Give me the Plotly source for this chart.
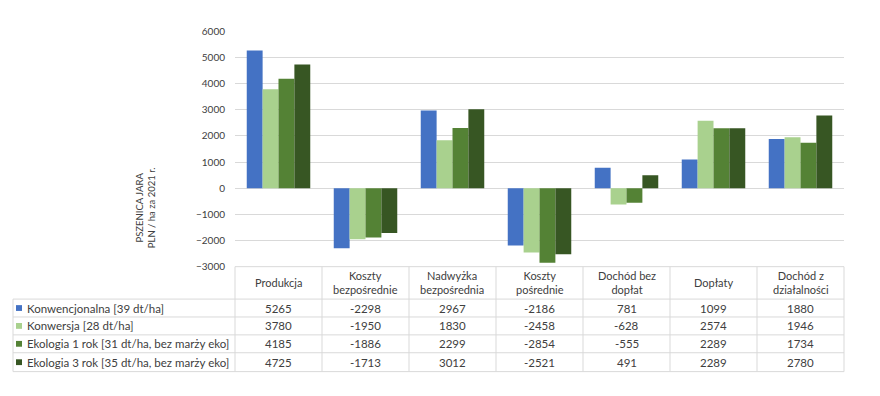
import plotly.graph_objects as go

categories = ["Produkcja", "Koszty bezpośrednie", "Nadwyżka bezpośrednia", "Koszty pośrednie",
              "Dochód bez dopłat", "Dopłaty", "Dochód z działalności"]
header_labels = ["Produkcja", "Koszty<br>bezpośrednie", "Nadwyżka<br>bezpośrednia", "Koszty<br>pośrednie",
                 "Dochód bez<br>dopłat", "Dopłaty", "Dochód z<br>działalności"]
series_names = ["Konwencjonalna [39 dt/ha]", "Konwersja [28 dt/ha]",
                "Ekologia 1 rok [31 dt/ha, bez marży eko]", "Ekologia 3 rok [35 dt/ha, bez marży eko]"]
konwencjonalna = [5265, -2298, 2967, -2186, 781, 1099, 1880]
konwersja = [3780, -1950, 1830, -2458, -628, 2574, 1946]
ekologia1 = [4185, -1886, 2299, -2854, -555, 2289, 1734]
ekologia3 = [4725, -1713, 3012, -2521, 491, 2289, 2780]
series_values = [konwencjonalna, konwersja, ekologia1, ekologia3]
colors = ["#4472C4", "#A9D18E", "#548235", "#375623"]
y_ticks = [6000, 5000, 4000, 3000, 2000, 1000, 0, -1000, -2000, -3000]
y_title = "PSZENICA JARA<br>PLN / ha za 2021 r."

W, H = 880, 396
FONT = "Lato"
TXT = "#404040"
GRID = "#D9D9D9"
TBL = "#D9D9D9"

# layout in pixels
px_left, px_right = 235, 844
py_top, py_bottom = 25, 268.5
leg_left = 13
row_lines = [268.5, 302, 320.5, 339, 357.5, 377]

def X(px):
    return px / W

def Y(py):
    return 1 - py / H

fig = go.Figure()
for name, vals, c in zip(series_names, series_values, colors):
    fig.add_trace(go.Bar(x=categories, y=vals, name=name, marker=dict(color=c, line=dict(width=0)),
                         hoverinfo="skip"))

fig.update_layout(
    width=W, height=H,
    margin=dict(l=0, r=0, t=0, b=0),
    paper_bgcolor="white", plot_bgcolor="white",
    showlegend=False,
    barmode="group", bargap=0.27, bargroupgap=0,
    font=dict(family=FONT, color=TXT, size=10),
    xaxis=dict(domain=[X(px_left), X(px_right)], showticklabels=False, ticks="",
               showgrid=False, zeroline=False, showline=False, range=[-0.5, 6.5]),
    yaxis=dict(domain=[Y(py_bottom), Y(py_top)], range=[-3000, 6000], tickvals=y_ticks,
               showgrid=True, gridcolor=GRID, gridwidth=1, zeroline=True, zerolinecolor=GRID,
               zerolinewidth=1, showline=False, ticks="", ticklabelstandoff=9,
               tickfont=dict(family=FONT, size=10, color=TXT)),
)

# y axis title
fig.add_annotation(x=X(145), y=Y(208), xref="paper", yref="paper", text=y_title, textangle=-90,
                   xanchor="center", yanchor="middle",
                   showarrow=False, font=dict(family=FONT, size=9.5, color=TXT), align="center")

shapes = []
colw = (px_right - px_left) / len(categories)
for i in range(len(categories) + 1):
    xx = px_left + i * colw
    shapes.append(dict(type="line", xref="paper", yref="paper", x0=X(xx), x1=X(xx),
                       y0=Y(row_lines[0]), y1=Y(row_lines[-1]), line=dict(color=TBL, width=1)))
shapes.append(dict(type="line", xref="paper", yref="paper", x0=X(leg_left), x1=X(leg_left),
                   y0=Y(row_lines[1]), y1=Y(row_lines[-1]), line=dict(color=TBL, width=1)))
for k, ry in enumerate(row_lines):
    x0 = px_left if k == 0 else leg_left
    shapes.append(dict(type="line", xref="paper", yref="paper", x0=X(x0), x1=X(px_right),
                       y0=Y(ry), y1=Y(ry), line=dict(color=TBL, width=1)))

for i, lab in enumerate(header_labels):
    cx = px_left + (i + 0.5) * colw
    fig.add_annotation(x=X(cx), y=Y((row_lines[0] + row_lines[1]) / 2), xref="paper", yref="paper",
                       text=lab, showarrow=False, align="center", xanchor="center", yanchor="middle",
                       font=dict(family=FONT, size=11, color=TXT))

for r, (name, vals, c) in enumerate(zip(series_names, series_values, colors)):
    cy = (row_lines[r + 1] + row_lines[r + 2]) / 2
    shapes.append(dict(type="rect", xref="paper", yref="paper", x0=X(16), x1=X(22),
                       y0=Y(cy + 3), y1=Y(cy - 3), fillcolor=c, line=dict(width=0)))
    fig.add_annotation(x=X(25), y=Y(cy), xref="paper", yref="paper", text=name, showarrow=False,
                       xanchor="left", yanchor="middle", font=dict(family=FONT, size=11.5, color=TXT))
    for i, v in enumerate(vals):
        cx = px_left + (i + 0.5) * colw
        fig.add_annotation(x=X(cx), y=Y(cy), xref="paper", yref="paper", text=str(v),
                           showarrow=False, xanchor="center", yanchor="middle",
                           font=dict(family=FONT, size=11.5, color=TXT))

fig.update_layout(shapes=shapes)
fig.write_html("out.html", config={"displayModeBar": False},
               post_script="document.body.style.margin='0';")
